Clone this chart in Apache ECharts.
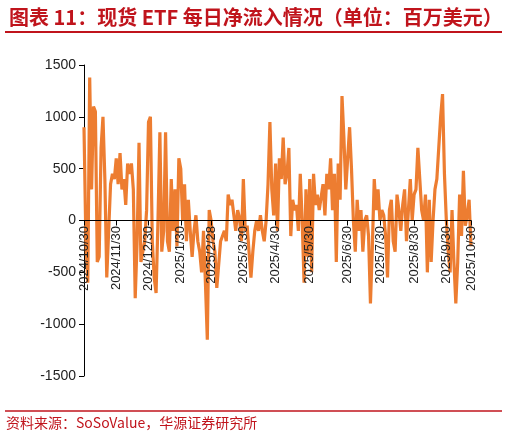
<!DOCTYPE html>
<html lang="en">
<head>
    <meta charset="utf-8">
    <title>现货ETF每日净流入</title>
</head>
<script type="text/javascript" src="https://cdn.jsdelivr.net/npm/echarts@6/dist/echarts.min.js"></script>
<body style="margin:0">
    <div id="myEcharts" style="width: 507px; height: 443px;"></div>
</body>
<script type="text/javascript">
    // 每月一段日度数据（百万美元）
    let m1 = [900, -200, -600, 1380, 300, 1100, 1050, -400, -350, 700, 1000, 400, -550, -100, 350, 450, 400];
    let m2 = [600, 350, 650, 300, 400, 150, 550, 450, 550, 300, -750, -200, 750, -400, -300, -200, 100];
    let m3 = [950, 1000, -200, -550, -700, 0, 850, -300, -100, 850, -200, -300, 400, -100, 300, -250, 600];
    let m4 = [500, 0, 350, -200, 200, -100, -350, -100, 50, -200, -300, -500, -100, -600, -1150, 100];
    let m5 = [0, -200, -300, -650, -650, -200, -150, -100, -200, 250, 150, 200, 50, -100, 100, 20, -200];
    let m6 = [400, -100, -50, -300, -550, -300, -100, 0, -100, 50, -100, -200, 0, 350, 950, 300, 50];
    let m7 = [550, -100, 600, 400, 800, 350, 450, 700, -150, 200, 100, 150, -100, 450, 0, -600, 300, -350];
    let m8 = [400, -500, 450, 150, 250, 100, 100, 350, 50, 450, 300, 600, 100, 450, -400, 550, 200, 1200, 800, 300];
    let m9 = [300, 900, 500, 0, -300, 200, -100, 100, -300, 0, 50, -150, -800, -250, 400, 100, 300];
    let m10 = [0, 100, 50, -150, -550, 100, 200, -200, -300, 250, 100, -100, 150, 300, -200, 100, 400, 0];
    let m11 = [250, 300, 700, 400, 100, 0, 250, -500, 200, -400, 0, 300, 400, 700, 1000, 1220, 450];
    let m12 = [0, -300, -500, 100, -400, -800, -400, 250, -150, 480, -50, 50, 200, -250];
    let months = [m1, m2, m3, m4, m5, m6, m7, m8, m9, m10, m11, m12];
    let tickLabels = ['2024/10/30', '2024/11/30', '2024/12/30', '2025/1/30', '2025/2/28', '2025/3/30',
        '2025/4/30', '2025/5/30', '2025/6/30', '2025/7/30', '2025/8/30', '2025/9/30', '2025/10/30'];

    let values = [];
    let cats = [];
    let labelAt = {};
    months.forEach(function (m, i) {
        labelAt[values.length] = tickLabels[i];
        m.forEach(function (v) { cats.push(String(values.length)); values.push(v); });
    });
    labelAt[values.length - 1] = tickLabels[12];

    let myChart = echarts.init(document.getElementById('myEcharts'));
    let red = '#C0141C';
    let option = {
        animation: false,
        textStyle: { fontFamily: 'Liberation Sans, Arial, sans-serif' },
        title: {
            text: '图表 11：现货 ETF 每日净流入情况（单位：百万美元）',
            left: 4, top: 2,
            textStyle: { color: red, fontSize: 20, fontWeight: 'bold', fontFamily: 'Noto Sans CJK SC' }
        },
        graphic: [
            { type: 'line', shape: { x1: 5, y1: 32, x2: 502, y2: 32 }, style: { stroke: red, lineWidth: 2 } },
            { type: 'line', shape: { x1: 5, y1: 411, x2: 502, y2: 411 }, style: { stroke: red, lineWidth: 1.5 } },
            { type: 'text', left: 6, top: 416, style: { text: '资料来源：SoSoValue，华源证券研究所', fill: red, fontSize: 14, fontFamily: 'Noto Sans CJK SC' } }
        ],
        grid: { left: 84, right: 36, top: 65, bottom: 67, outerBoundsMode: 'none', containLabel: false },
        xAxis: {
            type: 'category',
            data: cats,
            boundaryGap: false,
            z: 5,
            axisLine: { onZero: true, lineStyle: { color: '#000' } },
            axisTick: { show: true, interval: function (i) { return labelAt[i] !== undefined; }, lineStyle: { color: '#000' } },
            axisLabel: {
                rotate: 90, color: '#222', fontSize: 13, margin: -150,
                interval: function (i) { return labelAt[i] !== undefined; },
                formatter: function (v, i) { return labelAt[i] || ''; }
            }
        },
        yAxis: {
            type: 'value', min: -1500, max: 1500, interval: 500,
            splitLine: { show: false },
            axisLine: { show: true, lineStyle: { color: '#000' } },
            axisTick: { show: true, lineStyle: { color: '#000' } },
            axisLabel: { color: '#222', fontSize: 14, formatter: function (v) { return String(v); } }
        },
        series: [{
            type: 'line',
            data: values,
            showSymbol: false,
            z: 1,
            lineStyle: { color: '#ED7D31', width: 3.2 }
        }]
    };
    myChart.setOption(option);
</script>
</html>
